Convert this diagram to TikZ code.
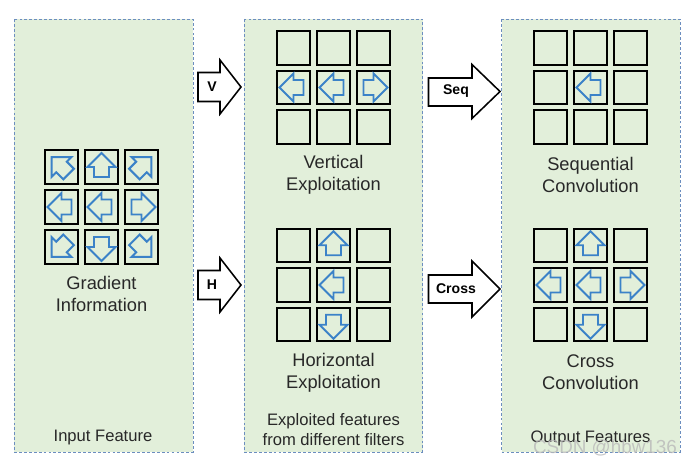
\documentclass[tikz,border=0pt]{standalone}
\usepackage{fontspec}
\setmainfont{Liberation Sans}
\usepackage{tikz}
\usepackage{xcolor}

\definecolor{panelgreen}{RGB}{226,239,218}
\definecolor{paneledge}{RGB}{108,142,191}
\definecolor{dirblue}{RGB}{59,130,200}
\definecolor{textgrey}{RGB}{40,40,40}

\tikzset{
  panel/.style={draw=paneledge, fill=panelgreen, line width=0.5pt, dash pattern=on 2pt off 1.5pt},
  cell/.style={draw=black, line width=1.5pt, minimum size=0.83cm, inner sep=0pt},
  dirarrow/.pic={\draw[dirblue, line width=1.4pt, line join=miter]
    (14,0) -- (0,14) -- (0,7.5) -- (-10,7.5) -- (-10,-7.5) -- (0,-7.5) -- (0,-14) -- cycle;},
  caption/.style={align=center, font=\fontsize{13}{15.6}\selectfont, text=textgrey},
  smallcaption/.style={align=center, font=\fontsize{11.8}{14.2}\selectfont, text=textgrey},
  bigarrow/.style={draw=black, fill=white, line width=1.1pt, line join=miter},
  arrowlabel/.style={font=\fontsize{10}{12}\selectfont\bfseries, inner sep=0pt}
}

\begin{document}
\begin{tikzpicture}[x=0.025cm, y=-0.025cm]

\useasboundingbox (0,0) rectangle (692,464);

% -------------------------
% Panels
% -------------------------
\draw[panel] (14,19) rectangle (193,452);
\draw[panel] (244,19) rectangle (422.5,452);
\draw[panel] (501.5,19) rectangle (680,452);

% -------------------------
% Input feature grid
% -------------------------
\foreach \r in {1,2,3}
  \foreach \c in {1,2,3}
    \node[cell] (in-\r-\c) at ({101.5+40*(\c-2)},{207+40*(\r-2)}) {};

\foreach \r/\c/\a in {1/1/135, 1/2/90, 1/3/45, 2/1/180, 2/2/180, 2/3/0, 3/1/225, 3/2/270, 3/3/315}
  \pic[rotate=\a] at (in-\r-\c) {dirarrow};

\node[caption] (gradInfo) at (101.5,294) {Gradient\\Information};
\node[smallcaption] (inputFeat) at (103,438) {Input Feature};

% -------------------------
% Vertical / horizontal grids
% -------------------------
\foreach \r in {1,2,3}
  \foreach \c in {1,2,3} {
    \node[cell] (ve-\r-\c) at ({333.5+40*(\c-2)},{87.5+39.5*(\r-2)}) {};
    \node[cell] (ho-\r-\c) at ({333.5+40*(\c-2)},{285+39.75*(\r-2)}) {};
  }

\foreach \c/\a in {1/180, 2/180, 3/0}
  \pic[rotate=\a] at (ve-2-\c) {dirarrow};
\foreach \r/\a in {1/90, 2/180, 3/270}
  \pic[rotate=\a] at (ho-\r-2) {dirarrow};

\node[caption] (vertCap) at (333.5,175) {Vertical\\Exploitation};
\node[caption] (horiCap) at (333.5,372.5) {Horizontal\\Exploitation};
\node[smallcaption] (exploitCap) at (333.5,430) {Exploited features\\from different filters};

% -------------------------
% Output grids
% -------------------------
\foreach \r in {1,2,3}
  \foreach \c in {1,2,3} {
    \node[cell] (sq-\r-\c) at ({590.5+40*(\c-2)},{87.5+39.5*(\r-2)}) {};
    \node[cell] (cr-\r-\c) at ({590.5+40*(\c-2)},{285+39.75*(\r-2)}) {};
  }

\pic[rotate=180] at (sq-2-2) {dirarrow};
\foreach \r/\c/\a in {1/2/90, 2/1/180, 2/2/180, 2/3/0, 3/2/270}
  \pic[rotate=\a] at (cr-\r-\c) {dirarrow};

\node[caption] (seqCap) at (590.5,175) {Sequential\\Convolution};
\node[caption] (crossCap) at (590.5,372.5) {Cross\\Convolution};
\node[smallcaption] (outputFeat) at (590.5,438) {Output Features};

% -------------------------
% Block arrows between panels
% -------------------------
\draw[bigarrow] (198,72.5) -- (220,72.5) -- (220,60) -- (241,87) -- (220,114) -- (220,101.5) -- (198,101.5) -- cycle;
\node[arrowlabel] (arrV) at (212,87) {V};

\draw[bigarrow] (198,270.5) -- (220,270.5) -- (220,258) -- (241,285) -- (220,312) -- (220,299.5) -- (198,299.5) -- cycle;
\node[arrowlabel] (arrH) at (212,285) {H};

\draw[bigarrow] (428.5,78) -- (472,78) -- (472,64.5) -- (500,91.5) -- (472,118.5) -- (472,106) -- (428.5,106) -- cycle;
\node[arrowlabel] (arrSeq) at (456,91.5) {Seq};

\draw[bigarrow] (428.5,275) -- (472,275) -- (472,261) -- (500,289) -- (472,317) -- (472,303) -- (428.5,303) -- cycle;
\node[arrowlabel] (arrCross) at (456,289) {Cross};

% -------------------------
% Watermark
% -------------------------
\node[font=\fontsize{13.4}{16}\selectfont, text=gray!55, opacity=0.8] (mark) at (605,448) {CSDN @hbw136};

\end{tikzpicture}
\end{document}
